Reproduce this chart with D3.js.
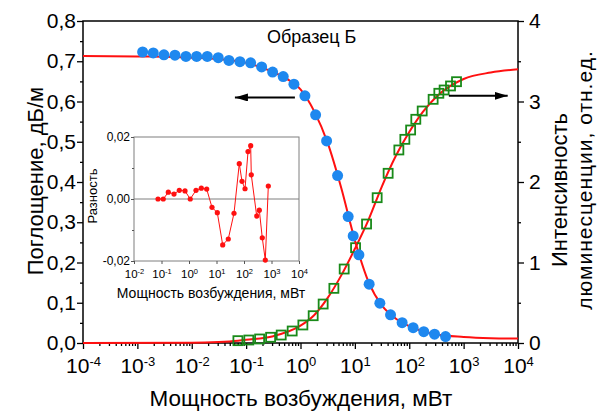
<!doctype html>
<html lang="ru">
<head>
<meta charset="utf-8">
<title>Образец Б</title>
<script src="https://cdn.jsdelivr.net/npm/d3@7"></script>
<style>
  body { margin: 0; background: #fff; }
  svg { display: block; font-family: Arial, "Liberation Sans", sans-serif; }
</style>
</head>
<body>
<svg id="chart" width="599" height="414"></svg>
<script>
// absorption (blue circles), mW / dB/m
var absPower = [0.00125, 0.00196, 0.00308, 0.00491, 0.00782, 0.0123, 0.0193, 0.0307, 0.0483, 0.0769,
  0.121, 0.193, 0.307, 0.481, 0.757, 1.205, 1.897, 3.02, 4.81, 7.53,
  9.31, 11.86, 18.3, 28.8, 45.3, 74.0, 118, 185, 292, 465];
var absValue = [0.723, 0.7206, 0.716, 0.715, 0.712, 0.712, 0.712, 0.709, 0.702, 0.699,
  0.696, 0.686, 0.673, 0.662, 0.643, 0.614, 0.567, 0.502, 0.416, 0.314,
  0.266, 0.219, 0.146, 0.099, 0.070, 0.0505, 0.038, 0.028, 0.022, 0.016];

// luminescence (green squares), mW / rel. units
var lumPower = [0.0706, 0.112, 0.177, 0.282, 0.442, 0.703, 1.106, 1.711, 2.61, 4.11,
  6.36, 10.3, 16.4, 25.7, 40.9, 64.4, 83.0, 106, 132, 173,
  275, 350, 438, 574, 740];
var lumValue = [0.029, 0.037, 0.050, 0.071, 0.099, 0.149, 0.224, 0.339, 0.484, 0.679,
  0.919, 1.184, 1.478, 1.805, 2.108, 2.398, 2.530, 2.646, 2.779, 2.882,
  3.027, 3.102, 3.143, 3.193, 3.246];

// fitted curves (red)
var absFitPower = [0.0001, 0.001, 0.00316, 0.01, 0.0316, 0.1, 0.316, 0.562, 1, 1.78,
  3.16, 5.62, 10, 17.8, 31.6, 56.2, 100, 178, 316, 1000, 3162, 10000];
var absFitValue = [0.713, 0.712, 0.711, 0.709, 0.705, 0.696, 0.673, 0.656, 0.630, 0.576,
  0.497, 0.385, 0.255, 0.152, 0.093, 0.061, 0.042, 0.029, 0.021, 0.015, 0.012, 0.011];
var lumFitPower = [0.0001, 0.01, 0.0316, 0.0708, 0.1, 0.316, 1, 1.78, 3.16, 5.62,
  10, 17.8, 31.6, 56.2, 100, 178, 316, 562, 1000, 3162, 10000];
var lumFitValue = [0.0, 0.002, 0.012, 0.029, 0.040, 0.085, 0.215, 0.345, 0.56, 0.84,
  1.17, 1.53, 1.95, 2.32, 2.62, 2.87, 3.06, 3.19, 3.28, 3.36, 3.40];

// inset: residuals
var resPower = [0.0747, 0.116, 0.177, 0.285, 0.444, 0.716, 1.11, 1.80, 2.80, 4.40,
  6.86, 10.7, 16.8, 26.8, 43.3, 67.4, 84.5, 109, 140, 175,
  184, 290, 360, 462, 595, 766];
var resValue = [0.0, 0.0, 0.0022, 0.0016, 0.0028, 0.0026, 0.0, 0.0028, 0.0035, 0.0032,
  -0.0027, -0.0044, -0.0148, -0.0129, -0.0046, 0.0114, 0.0057, 0.0033, 0.0153, 0.0172,
  0.0078, -0.0055, -0.0036, -0.0125, -0.0197, 0.0042];

var leftTicks = [0, 0.1, 0.2, 0.3, 0.4, 0.5, 0.6, 0.7, 0.8];
var rightTicks = [0, 1, 2, 3, 4];
var xExponents = [-4, -3, -2, -1, 0, 1, 2, 3, 4];
var insetExponents = [-2, -1, 0, 1, 2, 3, 4];
var insetTicks = [-0.02, 0, 0.02];

var blue = "#1e88ef", green = "#198a19", red = "#ff1010";
var svg = d3.select("#chart");

var x = d3.scaleLog().domain([1e-4, 1e4]).range([83, 518]);
var y = d3.scaleLinear().domain([0, 0.8]).range([343, 21]);
var y2 = d3.scaleLinear().domain([0, 4]).range([343, 21]);

// "10" with superscript exponent
function sup(sel, supSize, dy) {
  sel.selectAll("text").remove();
  sel.selectAll(".tick").append("text")
    .attr("fill", "#000").attr("text-anchor", "middle")
    .each(function(d) {
      var t = d3.select(this);
      t.append("tspan").text("10");
      t.append("tspan").attr("dy", dy).style("font-size", supSize + "px")
        .text(String(Math.round(Math.log10(d))));
    });
}

// bottom axis
var minorX = [];
for (var e = -4; e < 4; e++) for (var m = 2; m < 10; m++) minorX.push(m * Math.pow(10, e));
svg.append("g").attr("transform", "translate(0,343)")
  .call(d3.axisBottom(x).tickValues(minorX).tickSize(3).tickFormat(""))
  .call(g => g.select(".domain").remove());
var gx = svg.append("g").attr("transform", "translate(0,343)")
  .call(d3.axisBottom(x).tickValues(xExponents.map(e => Math.pow(10, e))).tickSize(6).tickSizeOuter(0))
  .style("font-size", "21px");
gx.select(".domain").remove();
sup(gx, 13, -7);
gx.selectAll(".tick text").attr("y", 30);

// left axis
svg.append("g").attr("transform", "translate(83,0)")
  .call(d3.axisLeft(y).tickValues(d3.range(0.05, 0.8, 0.1)).tickSize(3).tickFormat(""))
  .call(g => g.select(".domain").remove());
var gy = svg.append("g").attr("transform", "translate(83,0)")
  .call(d3.axisLeft(y).tickValues(leftTicks).tickSize(6)
    .tickFormat(d => d3.format(".1f")(d).replace(".", ",")))
  .style("font-size", "21px");
gy.select(".domain").remove();
gy.selectAll(".tick text").attr("x", -7);

// right axis
svg.append("g").attr("transform", "translate(518,0)")
  .call(d3.axisRight(y2).tickValues(d3.range(0.5, 4, 1)).tickSize(3).tickFormat(""))
  .call(g => g.select(".domain").remove());
var gy2 = svg.append("g").attr("transform", "translate(518,0)")
  .call(d3.axisRight(y2).tickValues(rightTicks).tickSize(6).tickFormat(d3.format("d")))
  .style("font-size", "21px");
gy2.select(".domain").remove();
gy2.selectAll(".tick text").attr("x", 11);
svg.selectAll(".tick line").attr("stroke-width", 1.3);

// frame
svg.append("rect").attr("x", 83).attr("y", 21).attr("width", 435).attr("height", 322)
  .attr("fill", "none").attr("stroke", "#000").attr("stroke-width", 1.5);

// axis titles
svg.append("text").attr("x", 301).attr("y", 406).attr("text-anchor", "middle")
  .style("font-size", "22.5px").text("Мощность возбуждения, мВт");
svg.append("text").attr("transform", "translate(43,181) rotate(-90)").attr("text-anchor", "middle")
  .style("font-size", "22px").text("Поглощение, дБ/м");
svg.append("text").attr("transform", "translate(567,190) rotate(-90)").attr("text-anchor", "middle")
  .style("font-size", "22px").text("Интенсивность");
svg.append("text").attr("transform", "translate(592,180) rotate(-90)").attr("text-anchor", "middle")
  .style("font-size", "21px").style("letter-spacing", "1px").text("люминесценции, отн.ед.");

svg.append("text").attr("x", 267).attr("y", 43).style("font-size", "18px").text("Образец Б");

// fits
var lineAbs = d3.line().x((d, i) => x(absFitPower[i])).y(d => y(d)).curve(d3.curveMonotoneX);
var lineLum = d3.line().x((d, i) => x(lumFitPower[i])).y(d => y2(d)).curve(d3.curveMonotoneX);
svg.append("path").attr("d", lineLum(lumFitValue)).attr("fill", "none").attr("stroke", red).attr("stroke-width", 2);

svg.selectAll(".sq").data(lumValue).enter().append("rect")
  .attr("x", (d, i) => x(lumPower[i]) - 4.5).attr("y", d => y2(d) - 4.5)
  .attr("width", 9).attr("height", 9)
  .attr("fill", "none").attr("stroke", green).attr("stroke-width", 1.8);

svg.append("path").attr("d", lineAbs(absFitValue)).attr("fill", "none").attr("stroke", red).attr("stroke-width", 2);

svg.selectAll(".dot").data(absValue).enter().append("circle")
  .attr("cx", (d, i) => x(absPower[i])).attr("cy", d => y(d)).attr("r", 5.5).attr("fill", blue);

// arrows
var defs = svg.append("defs");
defs.append("marker").attr("id", "head").attr("viewBox", "0 0 13 8")
  .attr("refX", 13).attr("refY", 4).attr("markerWidth", 13).attr("markerHeight", 8)
  .attr("markerUnits", "userSpaceOnUse").attr("orient", "auto")
  .append("path").attr("d", "M0,0L13,4L0,8Z").attr("fill", "#000");
svg.append("line").attr("x1", x(0.789)).attr("x2", x(0.0622))
  .attr("y1", y(0.61)).attr("y2", y(0.61))
  .attr("stroke", "#000").attr("stroke-width", 2).attr("marker-end", "url(#head)");
svg.append("line").attr("x1", x(535)).attr("x2", x(6460))
  .attr("y1", y2(3.07)).attr("y2", y2(3.07))
  .attr("stroke", "#000").attr("stroke-width", 2).attr("marker-end", "url(#head)");

// inset
var ix = d3.scaleLog().domain([1e-2, 1e4]).range([134, 299]);
var iy = d3.scaleLinear().domain([-0.02, 0.02]).range([261, 137]);
var inset = svg.append("g");
inset.append("rect").attr("x", 134).attr("y", 137).attr("width", 165).attr("height", 124)
  .attr("fill", "none").attr("stroke", "#7f7f7f").attr("stroke-width", 1);
inset.append("line").attr("x1", 134).attr("x2", 299).attr("y1", iy(0)).attr("y2", iy(0))
  .attr("stroke", "#7f7f7f").attr("stroke-width", 1);

var gix = inset.append("g").attr("transform", "translate(0,261)")
  .call(d3.axisBottom(ix).tickValues(insetExponents.map(e => Math.pow(10, e))).tickSize(3).tickSizeOuter(0))
  .style("font-size", "11.5px");
gix.select(".domain").remove();
sup(gix, 7.5, -4.5);
gix.selectAll(".tick text").attr("y", 17);

inset.append("g").attr("transform", "translate(134,0)")
  .call(d3.axisLeft(iy).tickValues([-0.01, 0.01]).tickSize(2).tickFormat(""))
  .call(g => g.select(".domain").remove());
var giy = inset.append("g").attr("transform", "translate(134,0)")
  .call(d3.axisLeft(iy).tickValues(insetTicks).tickSize(3)
    .tickFormat(d => d3.format(".2f")(d).replace(".", ",").replace("−", "-")))
  .style("font-size", "12px");
giy.select(".domain").remove();
giy.selectAll(".tick text").attr("x", -4);
inset.selectAll(".tick line").attr("stroke", "#555");

inset.append("text").attr("x", 211).attr("y", 298).attr("text-anchor", "middle")
  .style("font-size", "14px").text("Мощность возбуждения, мВт");
inset.append("text").attr("transform", "translate(97,196) rotate(-90)").attr("text-anchor", "middle")
  .style("font-size", "13px").text("Разность");

var lineRes = d3.line().x((d, i) => ix(resPower[i])).y(d => iy(d));
inset.append("path").attr("d", lineRes(resValue)).attr("fill", "none").attr("stroke", red).attr("stroke-width", 1);
inset.selectAll(".res").data(resValue).enter().append("circle")
  .attr("cx", (d, i) => ix(resPower[i])).attr("cy", d => iy(d)).attr("r", 2.6).attr("fill", red);
</script>
</body>
</html>
